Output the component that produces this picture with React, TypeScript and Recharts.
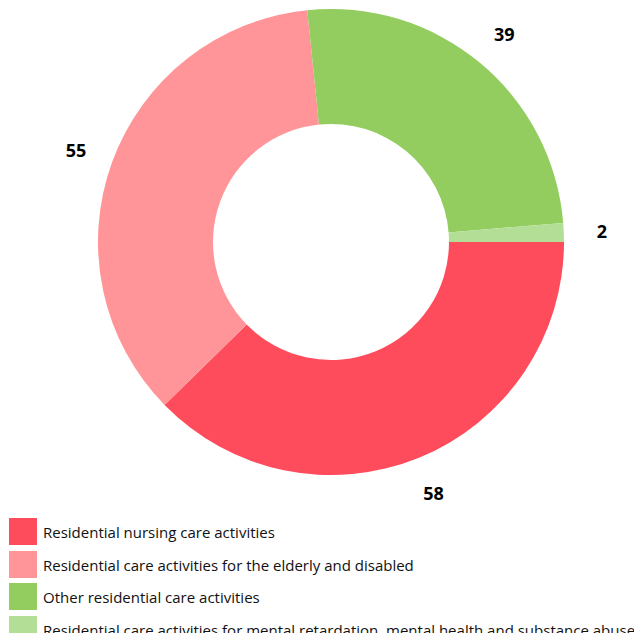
import React from "react";
import { PieChart, Pie, Cell, Legend } from "recharts";

const categories = [
  "Residential nursing care activities",
  "Residential care activities for the elderly and disabled",
  "Other residential care activities",
  "Residential care activities for mental retardation, mental health and substance abuse",
];
const values = [58, 55, 39, 2];
const COLORS = ["#ff4c5c", "#ff9598", "#93cd60", "#b2df95"];

const data = categories.map((name, i) => ({ name, value: values[i] }));

const RADIAN = Math.PI / 180;

const renderLabel = (props: any) => {
  const { cx, cy, midAngle, outerRadius, value } = props;
  const r = outerRadius + 38;
  const x = cx + r * Math.cos(-midAngle * RADIAN);
  const y = cy + r * Math.sin(-midAngle * RADIAN);
  return (
    <text
      x={x}
      y={y}
      textAnchor="middle"
      dominantBaseline="central"
      fill="#000"
      fontSize={18}
      fontWeight="bold"
      fontFamily="'Open Sans', sans-serif"
    >
      {value}
    </text>
  );
};

// legend rows: square then label, 32.7px apart
const renderLegend = () => (
  <div style={{ fontFamily: "'Open Sans', sans-serif", fontSize: 15, color: "#111" }}>
    {data.map((d, i) => (
      <div key={d.name} style={{ position: "relative", height: 32.7 }}>
        <div style={{ position: "absolute", left: 0, top: 0, width: 28, height: 27, background: COLORS[i] }} />
        <span style={{ position: "absolute", left: 34, top: 4, whiteSpace: "nowrap", lineHeight: "20px" }}>
          {d.name}
        </span>
      </div>
    ))}
  </div>
);

const App: React.FC = () => {
  return (
    <div style={{ margin: -8, width: 642, height: 641, overflow: "hidden" }}>
      <PieChart width={642} height={641} margin={{ top: 0, right: 0, bottom: 0, left: 0 }}>
        <Pie
          data={data}
          dataKey="value"
          nameKey="name"
          cx={331}
          cy={242}
          innerRadius={118}
          outerRadius={233}
          startAngle={0}
          endAngle={-360}
          stroke="none"
          label={renderLabel}
          labelLine={false}
          isAnimationActive={false}
        >
          {data.map((_, index) => (
            <Cell key={`cell-${index}`} fill={COLORS[index % COLORS.length]} />
          ))}
        </Pie>
        <Legend
          content={renderLegend}
          layout="vertical"
          wrapperStyle={{ position: "absolute", left: 9, top: 518, width: 633 }}
        />
      </PieChart>
    </div>
  );
};

export default App;
